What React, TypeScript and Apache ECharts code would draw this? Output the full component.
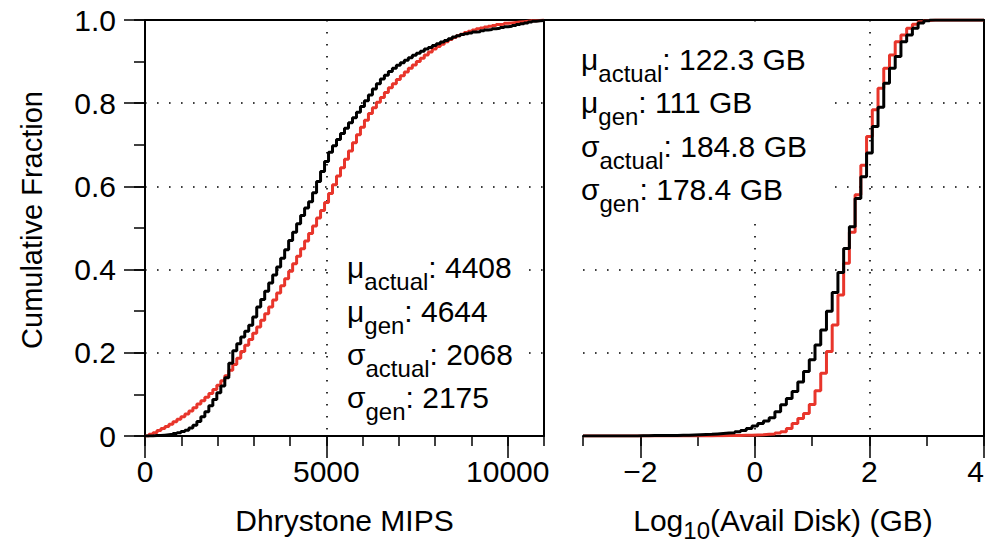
import React, { useEffect, useRef } from 'react';
import * as echarts from 'echarts';

const FONT = 'Liberation Sans';
const RED = '#e8352b';
const BLACK = '#000000';

// ---- Left panel: CDF of Dhrystone MIPS (bins of 110 MIPS from 0) ----
const MIPS_BIN_START = 0;
const MIPS_BIN_WIDTH = 110;
const MIPS_ACTUAL = [
  0, 0.000, 0.001, 0.001, 0.002, 0.003, 0.004, 0.006, 0.008, 0.011,
  0.014, 0.019, 0.026, 0.035, 0.046, 0.058, 0.073, 0.088, 0.104, 0.120,
  0.140, 0.175, 0.205, 0.222, 0.238, 0.252, 0.266, 0.286, 0.310, 0.328,
  0.348, 0.368, 0.387, 0.406, 0.427, 0.448, 0.470, 0.490, 0.510, 0.530,
  0.548, 0.563, 0.585, 0.612, 0.636, 0.660, 0.682, 0.698, 0.713, 0.727,
  0.740, 0.753, 0.765, 0.778, 0.792, 0.806, 0.820, 0.834, 0.847, 0.858,
  0.867, 0.876, 0.884, 0.891, 0.897, 0.903, 0.909, 0.915, 0.920, 0.925,
  0.930, 0.934, 0.939, 0.943, 0.947, 0.951, 0.955, 0.959, 0.962, 0.965,
  0.967, 0.969, 0.971, 0.972, 0.974, 0.976, 0.977, 0.979, 0.980, 0.982,
  0.984, 0.985, 0.987, 0.989, 0.991, 0.993, 0.995, 0.997, 0.998, 0.999,
  1.000,
];
const MIPS_GEN = [
  0, 0.004, 0.008, 0.013, 0.018, 0.023, 0.028, 0.034, 0.040, 0.046,
  0.053, 0.060, 0.068, 0.077, 0.085, 0.093, 0.102, 0.112, 0.122, 0.133,
  0.145, 0.158, 0.172, 0.187, 0.203, 0.218, 0.232, 0.247, 0.262, 0.278,
  0.294, 0.310, 0.327, 0.344, 0.361, 0.378, 0.396, 0.414, 0.432, 0.450,
  0.469, 0.487, 0.505, 0.524, 0.542, 0.561, 0.583, 0.604, 0.625, 0.645,
  0.665, 0.685, 0.705, 0.724, 0.742, 0.759, 0.775, 0.789, 0.802, 0.814,
  0.826, 0.837, 0.847, 0.857, 0.866, 0.875, 0.884, 0.892, 0.900, 0.908,
  0.916, 0.923, 0.930, 0.936, 0.942, 0.948, 0.953, 0.958, 0.962, 0.966,
  0.970, 0.973, 0.976, 0.979, 0.981, 0.983, 0.985, 0.987, 0.989, 0.990,
  0.992, 0.993, 0.994, 0.995, 0.996, 0.997, 0.998, 0.998, 0.999, 1.000,
  1.000,
];

// ---- Right panel: CDF of log10(avail disk GB) (bins of 0.1 from -2.95) ----
const DISK_MIN = -3;
const DISK_MAX = 4;
const DISK_BIN_START = -2.95;
const DISK_BIN_WIDTH = 0.1;
const DISK_ACTUAL = [
  0, 0, 0, 0, 0, 0, 0, 0, 0, 0.0005,
  0.0005, 0.001, 0.001, 0.001, 0.0015, 0.0015, 0.002, 0.002, 0.0025, 0.003,
  0.0035, 0.004, 0.005, 0.006, 0.007, 0.008, 0.010, 0.013, 0.018, 0.024,
  0.030, 0.036, 0.044, 0.058, 0.075, 0.090, 0.107, 0.130, 0.155, 0.183,
  0.219, 0.255, 0.300, 0.345, 0.393, 0.451, 0.503, 0.571, 0.623, 0.680,
  0.744, 0.790, 0.848, 0.884, 0.912, 0.948, 0.964, 0.980, 0.993, 0.998,
  1, 1, 1, 1, 1, 1, 1, 1, 1, 1,
];
const DISK_GEN = [
  0, 0, 0, 0, 0, 0, 0, 0, 0, 0,
  0, 0, 0, 0, 0, 0, 0, 0, 0, 0,
  0, 0.0003, 0.0005, 0.0005, 0.001, 0.001, 0.0015, 0.002, 0.002, 0.0025,
  0.003, 0.004, 0.005, 0.007, 0.010, 0.018, 0.030, 0.042, 0.054, 0.076,
  0.109, 0.151, 0.203, 0.267, 0.339, 0.415, 0.490, 0.580, 0.651, 0.720,
  0.784, 0.836, 0.884, 0.916, 0.948, 0.964, 0.980, 0.990, 0.996, 0.999,
  1, 1, 1, 1, 1, 1, 1, 1, 1, 1,
];

// ---- ticks ----
const MIPS_MAX = 11000;
const MIPS_MAJOR_TICKS = [0, 5000, 10000];
const DISK_MAJOR_TICKS = [-2, 0, 2, 4];

// ---- stats text ----
const MIPS_STATS = [
  { sym: 'μ', sub: 'actual', val: ': 4408' },
  { sym: 'μ', sub: 'gen', val: ': 4644' },
  { sym: 'σ', sub: 'actual', val: ': 2068' },
  { sym: 'σ', sub: 'gen', val: ': 2175' },
];
const DISK_STATS = [
  { sym: 'μ', sub: 'actual', val: ': 122.3 GB' },
  { sym: 'μ', sub: 'gen', val: ': 111 GB' },
  { sym: 'σ', sub: 'actual', val: ': 184.8 GB' },
  { sym: 'σ', sub: 'gen', val: ': 178.4 GB' },
];

const MAIN = 30;
const SUB = 24;
const CENTRAL = 0.3465; // central baseline offset (fraction of em)

function measure(t: string, size: number) {
  const c = document.createElement('canvas').getContext('2d') as CanvasRenderingContext2D;
  c.font = `${size}px "${FONT}"`;
  return c.measureText(t).width;
}

function txt(text: string, x: number, baseline: number, size: number, align = 'left', extra: any = {}) {
  return {
    type: 'text',
    x,
    y: baseline - size * CENTRAL,
    z: 10,
    silent: true,
    ...extra,
    style: {
      text,
      fontSize: size,
      fontFamily: FONT,
      fill: '#000',
      align,
      textAlign: align,
      verticalAlign: 'middle',
      textVerticalAlign: 'middle',
    },
  };
}

function statEls(stats: typeof MIPS_STATS, x0: number, baselines: number[]) {
  const out: any[] = [];
  stats.forEach((s, i) => {
    const b = baselines[i];
    const w1 = measure(s.sym, MAIN);
    const w2 = measure(s.sub, SUB);
    out.push(txt(s.sym, x0, b, MAIN));
    out.push(txt(s.sub, x0 + w1, b + 12, SUB));
    out.push(txt(s.val, x0 + w1 + w2, b, MAIN));
  });
  return out;
}

const dotted = { color: '#000', width: 1.6, type: [1.6, 10.4] as any };
const axisLine = { show: true, onZero: false, lineStyle: { color: '#000', width: 2 } };
const tickStyle = { color: '#000', width: 1.5 };
const labelStyle = { color: '#000', fontSize: 30, fontFamily: FONT };

export default function App() {
  const ref = useRef<HTMLDivElement>(null);
  useEffect(() => {
    if (!ref.current) return;
    const chart = echarts.init(ref.current, null, { renderer: 'svg' });

    const mipsActual = MIPS_ACTUAL.map((v, k) => [MIPS_BIN_START + k * MIPS_BIN_WIDTH, v]);
    const mipsGen = MIPS_GEN.map((v, k) => [MIPS_BIN_START + k * MIPS_BIN_WIDTH, v]);
    const diskSeries = (arr: number[]) => [
      [DISK_MIN, 0],
      ...arr.map((v, k) => [+(DISK_BIN_START + k * DISK_BIN_WIDTH).toFixed(2), v]),
      [DISK_MAX, arr[arr.length - 1]],
    ];

    // right title pieces
    const tW1 = measure('Log', MAIN);
    const tW2 = measure('10', SUB);
    const tW3 = measure('(Avail Disk) (GB)', MAIN);
    const tX0 = 783 - (tW1 + tW2 + tW3) / 2;

    const yFmt = (v: number) => (Math.abs(v) < 1e-9 ? '0' : v.toFixed(1));

    const option: any = {
      animation: false,
      backgroundColor: '#fff',
      grid: [
        { left: 145, top: 20, width: 399, height: 416, containLabel: false, outerBoundsMode: 'none' },
        { left: 583, top: 20, width: 401, height: 416, containLabel: false, outerBoundsMode: 'none' },
      ],
      xAxis: [
        {
          type: 'value', gridIndex: 0, position: 'bottom', min: 0, max: MIPS_MAX, interval: 1000,
          axisLine, axisTick: { show: true, length: 10, lineStyle: tickStyle },
          axisLabel: { show: false }, splitLine: { show: false },
        },
        {
          type: 'value', gridIndex: 0, position: 'bottom', min: 0, max: MIPS_MAX, interval: 5000,
          axisLine: { show: false, onZero: false },
          axisTick: { show: true, length: 22, lineStyle: tickStyle, customValues: MIPS_MAJOR_TICKS },
          axisLabel: {
            ...labelStyle, margin: 20, customValues: MIPS_MAJOR_TICKS,
            formatter: (v: number) => (MIPS_MAJOR_TICKS.includes(v) ? String(v) : ''),
          },
          splitLine: { show: true, lineStyle: dotted, showMinLine: false, showMaxLine: false },
        },
        {
          type: 'value', gridIndex: 0, position: 'top', min: 0, max: MIPS_MAX,
          axisLine, axisTick: { show: false }, axisLabel: { show: false }, splitLine: { show: false },
        },
        {
          type: 'value', gridIndex: 1, position: 'bottom', min: DISK_MIN, max: DISK_MAX, interval: 1,
          axisLine, axisTick: { show: true, length: 10, lineStyle: tickStyle },
          axisLabel: { show: false }, splitLine: { show: false },
        },
        {
          type: 'value', gridIndex: 1, position: 'bottom', min: DISK_MIN, max: DISK_MAX, interval: 2,
          axisLine: { show: false, onZero: false },
          axisTick: { show: true, length: 22, lineStyle: tickStyle, customValues: DISK_MAJOR_TICKS },
          axisLabel: {
            ...labelStyle, margin: 20, customValues: DISK_MAJOR_TICKS, alignMaxLabel: 'right',
            formatter: (v: number) => (DISK_MAJOR_TICKS.includes(v) ? String(v).replace('-', '\u2212') : ''),
          },
          splitLine: { show: true, lineStyle: dotted, showMinLine: false, showMaxLine: false },
        },
        {
          type: 'value', gridIndex: 1, position: 'top', min: DISK_MIN, max: DISK_MAX,
          axisLine, axisTick: { show: false }, axisLabel: { show: false }, splitLine: { show: false },
        },
      ],
      yAxis: [
        {
          type: 'value', gridIndex: 0, position: 'left', min: 0, max: 1, interval: 0.1,
          axisLine, axisTick: { show: true, length: 11, lineStyle: tickStyle },
          axisLabel: { show: false }, splitLine: { show: false },
        },
        {
          type: 'value', gridIndex: 0, position: 'left', min: 0, max: 1, interval: 0.2,
          axisLine: { show: false, onZero: false },
          axisTick: { show: true, length: 21, lineStyle: tickStyle },
          axisLabel: { ...labelStyle, margin: 29, formatter: yFmt },
          splitLine: { show: true, lineStyle: dotted, showMinLine: false, showMaxLine: false },
        },
        {
          type: 'value', gridIndex: 0, position: 'right', min: 0, max: 1,
          axisLine, axisTick: { show: false }, axisLabel: { show: false }, splitLine: { show: false },
        },
        {
          type: 'value', gridIndex: 1, position: 'left', min: 0, max: 1, interval: 0.2,
          axisLine: { show: false, onZero: false }, axisTick: { show: false }, axisLabel: { show: false },
          splitLine: { show: true, lineStyle: dotted, showMinLine: false, showMaxLine: false },
        },
        {
          type: 'value', gridIndex: 1, position: 'right', min: 0, max: 1,
          axisLine, axisTick: { show: false }, axisLabel: { show: false }, splitLine: { show: false },
        },
      ],
      series: [
        {
          name: 'gen', type: 'line', xAxisIndex: 0, yAxisIndex: 0, step: 'end', data: mipsGen,
          showSymbol: false, silent: true, z: 3, lineStyle: { color: RED, width: 3 }, itemStyle: { color: RED },
        },
        {
          name: 'actual', type: 'line', xAxisIndex: 0, yAxisIndex: 0, step: 'end', data: mipsActual,
          showSymbol: false, silent: true, z: 4, lineStyle: { color: BLACK, width: 3 }, itemStyle: { color: BLACK },
        },
        {
          name: 'gen', type: 'line', xAxisIndex: 3, yAxisIndex: 3, step: 'end', data: diskSeries(DISK_GEN),
          showSymbol: false, silent: true, z: 3, lineStyle: { color: RED, width: 3 }, itemStyle: { color: RED },
        },
        {
          name: 'actual', type: 'line', xAxisIndex: 3, yAxisIndex: 3, step: 'end', data: diskSeries(DISK_ACTUAL),
          showSymbol: false, silent: true, z: 4, lineStyle: { color: BLACK, width: 3 }, itemStyle: { color: BLACK },
        },
      ],
      graphic: [
        { type: 'line', z: 5, silent: true, shape: { x1: 544, y1: 20, x2: 583, y2: 20 }, style: { stroke: '#000', lineWidth: 2 } },
        { type: 'rect', z: 1, silent: true, shape: { x: 330, y: 240, width: 197, height: 193 }, style: { fill: '#fff' } },
        { type: 'rect', z: 1, silent: true, shape: { x: 546, y: 22, width: 282, height: 200 }, style: { fill: '#fff' } },
        ...statEls(MIPS_STATS, 347, [278, 322, 365, 408]),
        ...statEls(DISK_STATS, 581, [70, 113, 157, 200]),
        txt('Dhrystone MIPS', 344.5, 531, MAIN, 'center'),
        txt('Log', tX0, 531, MAIN),
        txt('10', tX0 + tW1, 539, SUB),
        txt('(Avail Disk) (GB)', tX0 + tW1 + tW2, 531, MAIN),
        {
          type: 'text', x: 32, y: 220, rotation: Math.PI / 2, z: 10, silent: true,
          style: {
            text: 'Cumulative Fraction', fontSize: 29, fontFamily: FONT, fill: '#000',
            align: 'center', textAlign: 'center', verticalAlign: 'middle', textVerticalAlign: 'middle',
          },
        },
      ],
    };
    chart.setOption(option);
    return () => chart.dispose();
  }, []);
  return (
    <div
      ref={ref}
      style={{ position: 'fixed', left: 0, top: 0, width: 987, height: 544, background: '#fff' }}
    />
  );
}
